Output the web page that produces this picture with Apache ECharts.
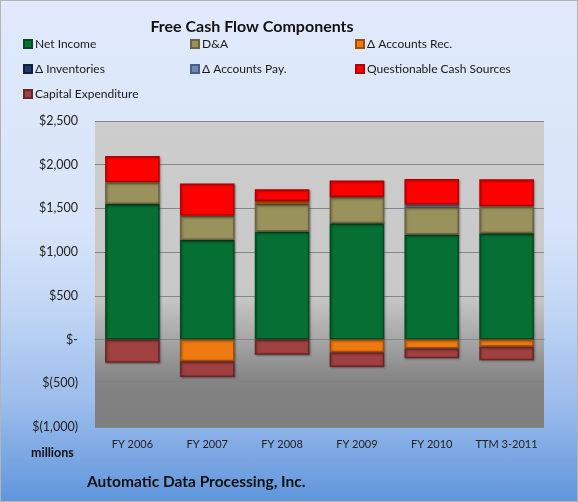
<!DOCTYPE html>
<html>
<head>
<meta charset="utf-8">
<script src="https://cdn.jsdelivr.net/npm/echarts@6/dist/echarts.min.js"></script>
<style>
  html, body { margin: 0; padding: 0; }
  #chart {
    width: 578px; height: 502px; box-sizing: border-box;
    border: 1px solid #b4b4b4;
    background: linear-gradient(to bottom, #e0eafb 0%, #d8e4f9 45%, #c4d8f5 60%, #9dbdec 80%, #6096dc 100%);
  }
</style>
</head>
<body>
<div id="chart"></div>
<script>
const categories = ["FY 2006", "FY 2007", "FY 2008", "FY 2009", "FY 2010", "TTM 3-2011"];
const netIncome = [1550, 1140, 1235, 1330, 1203, 1215];
const depAmort = [250, 275, 315, 300, 315, 310];
const accountsRec = [0, -247, 35, -145, -102, -83];
const inventories = [0, 0, 0, 0, 0, 0];
const accountsPay = [0, 0, 0, 0, 25, 0];
const questionable = [300, 370, 135, 190, 295, 310];
const capex = [-265, -182, -174, -170, -111, -153];

const font = "Lato, 'Noto Sans', sans-serif";

// name, data, fill, border
const seriesDefs = [
  ["Net Income", netIncome, "#067034", "#024a21"],
  ["D&A", depAmort, "#9a925c", "#6b6440"],
  ["Δ Accounts Rec.", accountsRec, "#f07a12", "#9e4f0a"],
  ["Δ Inventories", inventories, "#1f3864", "#111f3a"],
  ["Δ Accounts Pay.", accountsPay, "#7088b8", "#4a5f88"],
  ["Questionable Cash Sources", questionable, "#ff0000", "#b00000"],
  ["Capital Expenditure", capex, "#a04040", "#6a2626"]
];

function money(v) {
  if (v === 0) return "$-";
  const s = Math.abs(v).toLocaleString("en-US");
  return v < 0 ? "$(" + s + ")" : "$" + s;
}

function legendCol(left, names) {
  return {
    orient: "vertical", left: left, top: 32,
    itemWidth: 8, itemHeight: 8, itemGap: 13,
    icon: "rect",
    textStyle: { fontFamily: font, fontSize: 12, color: "#1a1a1a", padding: [0, 0, 0, -2] },
    data: names
  };
}

const chart = echarts.init(document.getElementById("chart"));
chart.setOption({
  animation: false,
  title: [
    { text: "Free Cash Flow Components", left: 246, textAlign: "center", top: 13,
      textStyle: { fontFamily: font, fontSize: 16, fontWeight: "bold", color: "#111" } },
    { text: "millions", left: 25, top: 440,
      textStyle: { fontFamily: font, fontSize: 12.5, fontWeight: "bold", color: "#111" } },
    { text: "Automatic Data Processing, Inc.", left: 81, top: 468,
      textStyle: { fontFamily: font, fontSize: 15.5, fontWeight: "bold", color: "#111" } }
  ],
  legend: [
    legendCol(17, ["Net Income", "Δ Inventories", "Capital Expenditure"]),
    legendCol(184, ["D&A", "Δ Accounts Pay."]),
    legendCol(349, ["Δ Accounts Rec.", "Questionable Cash Sources"])
  ],
  grid: {
    left: 94, right: 33, top: 120, bottom: 74, show: true, borderWidth: 0,
    outerBoundsMode: "none", containLabel: false,
    backgroundColor: {
      type: "linear", x: 0, y: 0, x2: 0, y2: 1,
      colorStops: [
        { offset: 0, color: "#cdcdcd" },
        { offset: 0.57, color: "#c8c8c8" },
        { offset: 0.72, color: "#a5a5a5" },
        { offset: 0.85, color: "#838383" },
        { offset: 1, color: "#7f7f7f" }
      ]
    }
  },
  xAxis: [
    {
      type: "category", data: categories,
      axisLine: { onZero: true, lineStyle: { color: "#868686" } },
      axisTick: { inside: true, length: 3, lineStyle: { color: "#868686" } },
      axisLabel: { show: false }
    },
    {
      type: "category", data: categories, position: "bottom",
      axisLine: { show: false }, axisTick: { show: false },
      axisLabel: { interval: 0, margin: 12, fontFamily: font, fontSize: 11, color: "#222" }
    }
  ],
  yAxis: {
    type: "value", min: -1000, max: 2500, interval: 500,
    axisLine: { show: false }, axisTick: { show: false },
    splitLine: { lineStyle: { color: "#868686" } },
    axisLabel: { margin: 17, fontFamily: font, fontSize: 12.5, color: "#222", formatter: money }
  },
  series: seriesDefs.map(([name, data, fill, border]) => ({
    name: name, type: "bar", stack: "fcf", xAxisIndex: 0,
    data: data.map(v => (v === 0 ? null : v)),
    barWidth: "73%",
    itemStyle: { color: fill, borderColor: border, borderWidth: 1.5,
      shadowColor: "rgba(0,0,0,0.3)", shadowBlur: 2, shadowOffsetX: 1, shadowOffsetY: 1 }
  }))
});
</script>
</body>
</html>
